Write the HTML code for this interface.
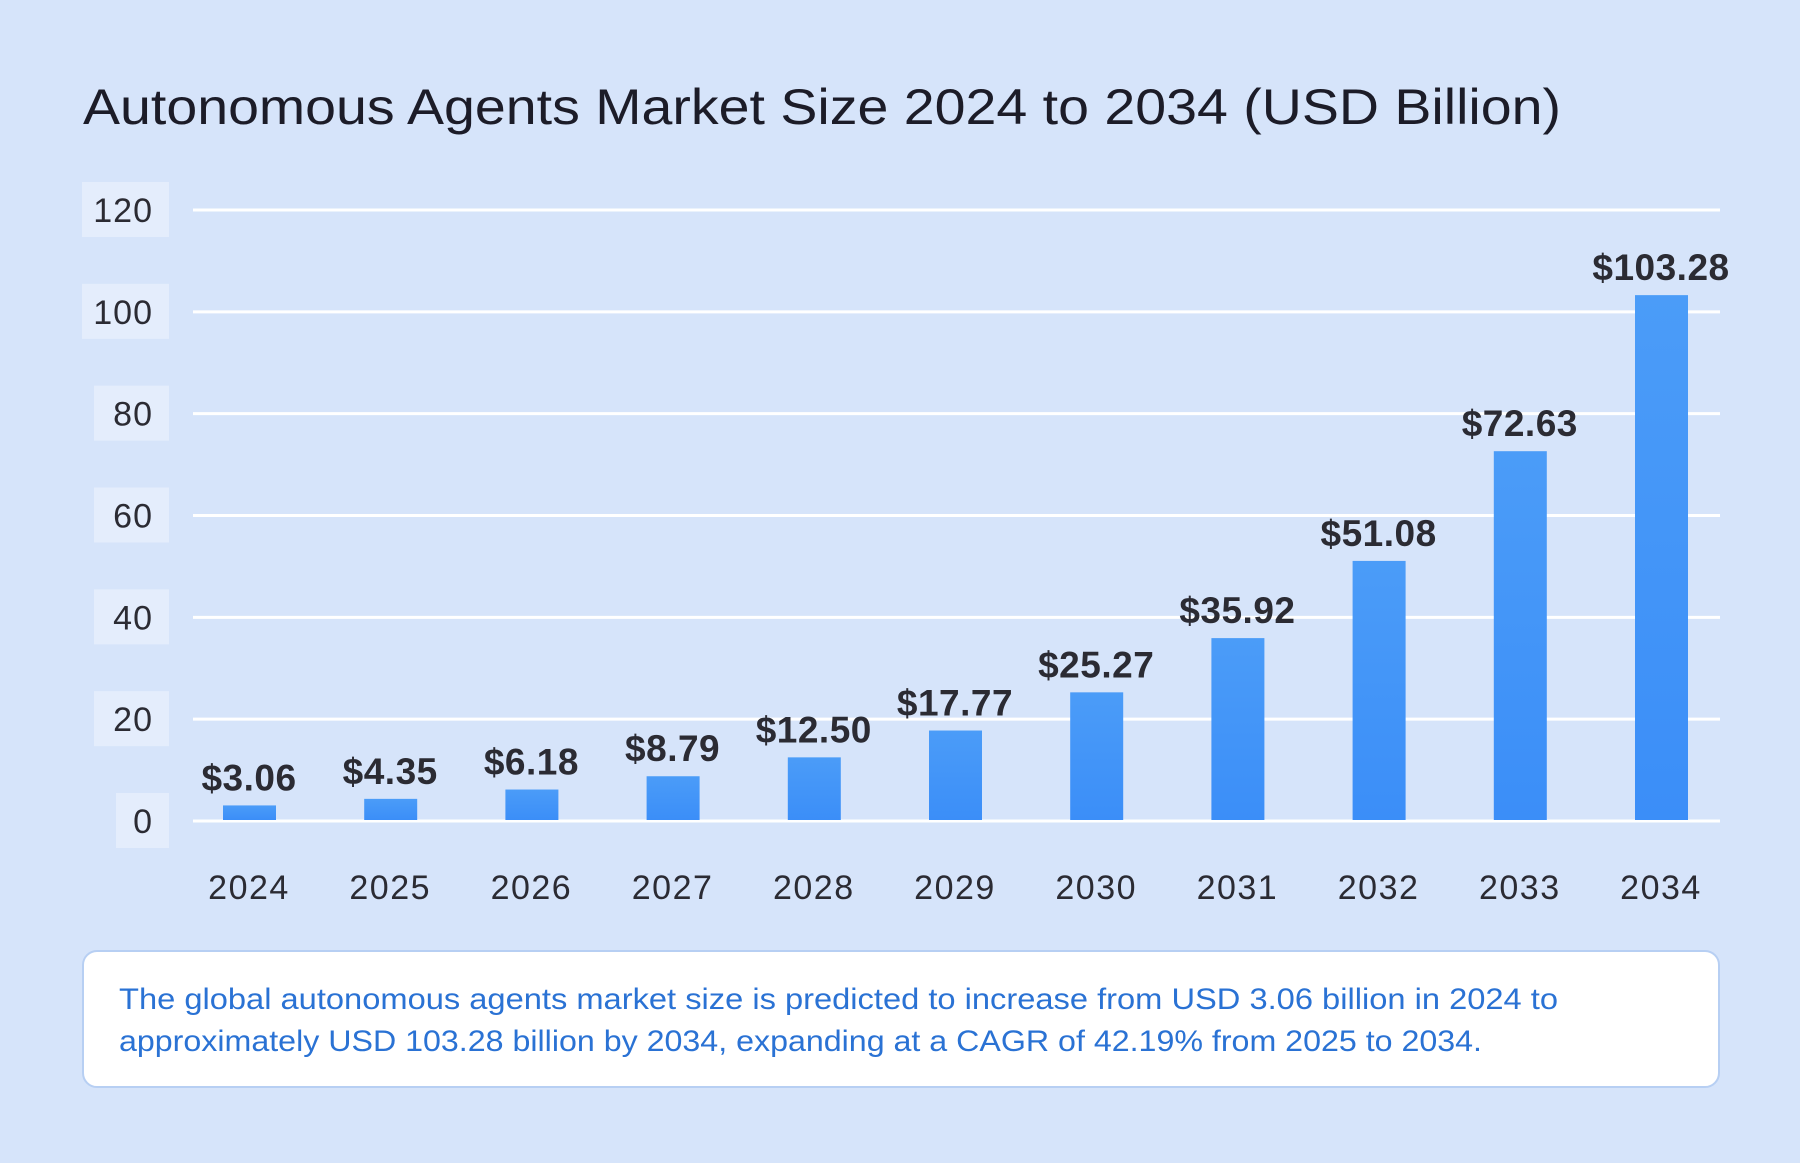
<!DOCTYPE html>
<html><head><meta charset="utf-8"><style>
html,body{margin:0;padding:0;background:#d6e4fa;}
svg{display:block;font-family:"Liberation Sans",sans-serif;}
</style></head><body>
<svg id="chart" width="1800" height="1163" viewBox="0 0 1800 1163">
<defs><linearGradient id="bg" x1="0" y1="0" x2="0" y2="1"><stop offset="0" stop-color="#4b9cf8"/><stop offset="1" stop-color="#3b8ef8"/></linearGradient></defs>
<rect width="1800" height="1163" fill="#d6e4fa"/>
<text x="83" y="124" font-size="50" fill="#1c1c28" textLength="1478" lengthAdjust="spacingAndGlyphs">Autonomous Agents Market Size 2024 to 2034 (USD Billion)</text>
<g id="grid"></g><g id="bars"></g>
<rect x="83" y="951" width="1636" height="136" rx="14" fill="#ffffff" stroke="#b7cff3" stroke-width="2"/>
<text x="119" y="1009" font-size="30" fill="#2a72d4" textLength="1439" lengthAdjust="spacingAndGlyphs">The global autonomous agents market size is predicted to increase from USD 3.06 billion in 2024 to</text>
<text x="119" y="1051" font-size="30" fill="#2a72d4" textLength="1363" lengthAdjust="spacingAndGlyphs">approximately USD 103.28 billion by 2034, expanding at a CAGR of 42.19% from 2025 to 2034.</text>
</svg>
<script>
const categories = ["2024","2025","2026","2027","2028","2029","2030","2031","2032","2033","2034"];
const values = [3.06,4.35,6.18,8.79,12.50,17.77,25.27,35.92,51.08,72.63,103.28];
const valueLabels = ["$3.06","$4.35","$6.18","$8.79","$12.50","$17.77","$25.27","$35.92","$51.08","$72.63","$103.28"];
const yTicks = [0,20,40,60,80,100,120];
const NS="http://www.w3.org/2000/svg";
const y0=821, y120=210, x0=193, x1=1720;
const boxW=[0,53,75,87];
function yScale(v){return y0-(v/120)*(y0-y120);}
function xScale(i){return 249+i*141.2;}
function mk(tag,attrs,parent){const e=document.createElementNS(NS,tag);for(const k in attrs)e.setAttribute(k,attrs[k]);parent.appendChild(e);return e;}
const grid=document.getElementById('grid'), bars=document.getElementById('bars');
yTicks.forEach(t=>{
  const y=yScale(t);
  const l=mk('line',{x1:x0,x2:x1,y1:y,y2:y,stroke:'#ffffff','stroke-width':3},grid);
  
  
  const w=boxW[String(t).length];
  const b=mk('rect',{x:169-w,y:y-28,width:w,height:55,fill:'#e4edfc'},grid);
  
  
  const tx=mk('text',{x:153,y:y+12,'font-size':34,fill:'#2b2b33','text-anchor':'end','letter-spacing':1},grid);
  tx.textContent=t;
  
  
});
categories.forEach((c,i)=>{
  const cx=xScale(i), top=yScale(values[i]);
  const r=mk('rect',{x:cx-26,y:top,width:53,height:y0-1-top,fill:'url(#bg)'},bars);
  
  
  const v=mk('text',{x:cx,y:top-15,'font-size':37,'font-weight':'bold',fill:'#2b2b33','text-anchor':'middle','letter-spacing':0.5},bars);
  v.textContent=valueLabels[i];
  
  
  const xl=mk('text',{x:cx,y:899,'font-size':34,fill:'#2b2b33','text-anchor':'middle','letter-spacing':1.5},bars);
  xl.textContent=c;
  
  
});
</script>
</body></html>
